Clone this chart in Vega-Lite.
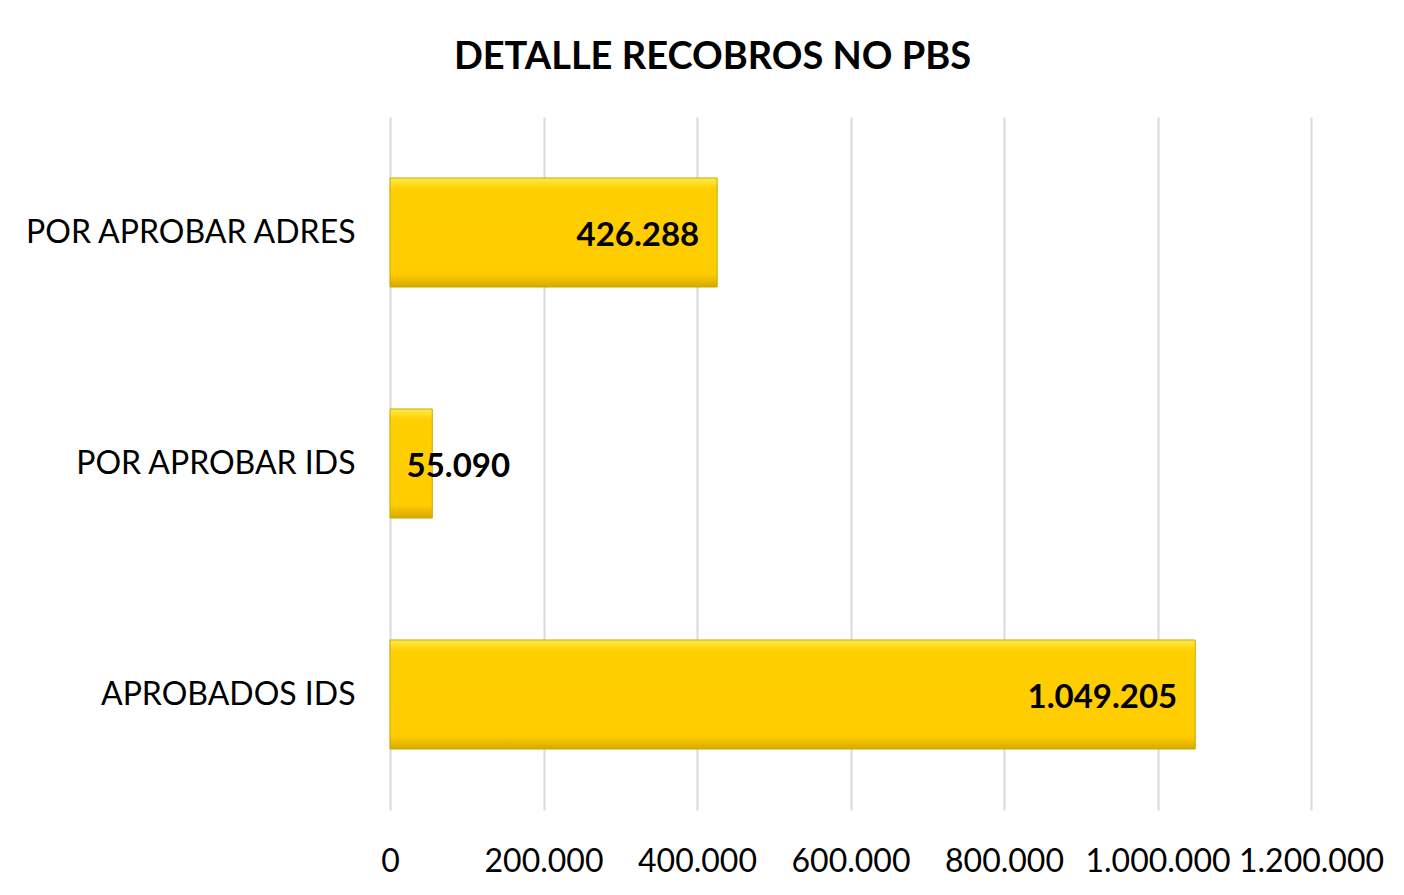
{
  "$schema": "https://vega.github.io/schema/vega-lite/v6.json",
  "width": 921,
  "height": 693,
  "autosize": {"type": "none"},
  "padding": {"left": 390, "top": 117, "right": 93, "bottom": 85},
  "background": "white",
  "title": {
    "text": "DETALLE RECOBROS NO PBS",
    "font": "Lato",
    "fontSize": 38,
    "fontWeight": "bold",
    "color": "#000000",
    "anchor": "middle",
    "frame": "group",
    "dx": -138,
    "offset": 40
  },
  "config": {
    "locale": {"number": {"decimal": ",", "thousands": ".", "grouping": [3], "currency": ["$", ""]}},
    "view": {"stroke": null},
    "font": "Lato"
  },
  "data": {
    "values": [
      {"categoria": "POR APROBAR ADRES", "valor": 426288},
      {"categoria": "POR APROBAR IDS", "valor": 55090},
      {"categoria": "APROBADOS IDS", "valor": 1049205}
    ]
  },
  "encoding": {
    "y": {
      "field": "categoria",
      "type": "nominal",
      "sort": null,
      "title": null,
      "scale": {"paddingInner": 0.528, "paddingOuter": 0.264},
      "axis": {
        "domain": false,
        "ticks": false,
        "labelFont": "Lato",
        "labelFontSize": 32,
        "labelColor": "#000000",
        "labelPadding": 35,
        "labelLimit": 400
      }
    },
    "x": {
      "field": "valor",
      "type": "quantitative",
      "title": null,
      "scale": {"domain": [0, 1200000], "nice": false},
      "axis": {
        "values": [0, 200000, 400000, 600000, 800000, 1000000, 1200000],
        "format": ",d",
        "domain": false,
        "ticks": false,
        "grid": true,
        "gridColor": "#D9D9D9",
        "gridWidth": 2,
        "labelFont": "Lato",
        "labelFontSize": 32,
        "labelColor": "#000000",
        "labelPadding": 36,
        "labelOverlap": false,
        "labelBound": false,
        "labelFlush": false
      }
    }
  },
  "layer": [
    {
      "mark": {
        "type": "bar",
        "color": {
          "gradient": "linear",
          "x1": 0, "y1": 0, "x2": 0, "y2": 1,
          "stops": [
            {"offset": 0, "color": "#FFEA4D"},
            {"offset": 0.1, "color": "#FFCF00"},
            {"offset": 0.88, "color": "#FFCC00"},
            {"offset": 1, "color": "#D9A800"}
          ]
        },
        "stroke": "#C2AE00",
        "strokeWidth": 1
      }
    },
    {
      "transform": [{"filter": "datum.valor >= 100000"}],
      "mark": {
        "type": "text",
        "align": "right",
        "baseline": "middle",
        "dx": -18,
        "dy": 3,
        "font": "Lato",
        "fontSize": 33,
        "fontWeight": "bold",
        "color": "#000000"
      },
      "encoding": {
        "text": {"field": "valor", "type": "quantitative", "format": ",d"}
      }
    },
    {
      "transform": [{"filter": "datum.valor < 100000"}],
      "mark": {
        "type": "text",
        "align": "center",
        "baseline": "middle",
        "dx": 26,
        "dy": 3,
        "font": "Lato",
        "fontSize": 33,
        "fontWeight": "bold",
        "color": "#000000"
      },
      "encoding": {
        "text": {"field": "valor", "type": "quantitative", "format": ",d"}
      }
    }
  ]
}
